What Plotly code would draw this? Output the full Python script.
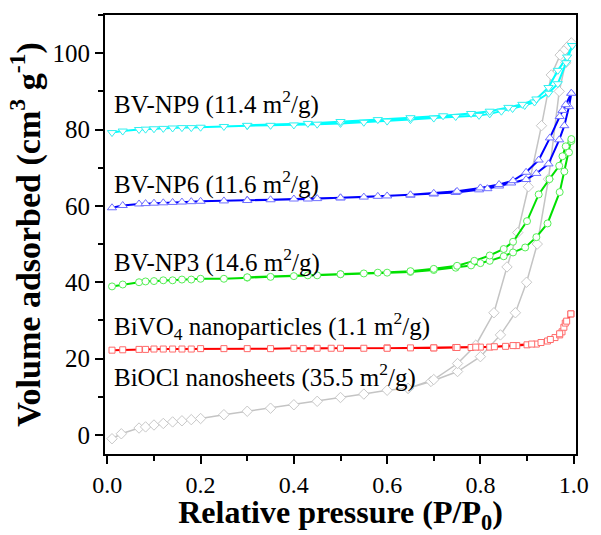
import plotly.graph_objects as go

# ---------------- data (P/P0, volume adsorbed cm3/g) ----------------
low_x = [0.01, 0.033, 0.068, 0.082, 0.10, 0.12, 0.14, 0.16, 0.18, 0.20,
         0.25, 0.30, 0.35, 0.40, 0.45, 0.50, 0.55, 0.60]

# BiOCl nanosheets
biocl_ads_x = [0.01, 0.03, 0.068, 0.082, 0.10, 0.12, 0.14, 0.16, 0.18, 0.20,
               0.25, 0.30, 0.35, 0.40, 0.45, 0.50, 0.55, 0.60, 0.645, 0.694,
               0.751, 0.80, 0.843, 0.875, 0.899, 0.922, 0.946, 0.969, 0.983, 0.99]
biocl_ads_y = [-1.0, 0.3, 1.8, 2.1, 2.6, 3.0, 3.4, 3.7, 4.0, 4.3,
               5.3, 6.2, 7.0, 7.9, 8.8, 9.8, 10.7, 11.7, 12.2, 14.0,
               16.6, 20.5, 26.2, 32.0, 40.0, 50.0, 67.0, 90.0, 97.5, 101.5]
biocl_des_x = [0.995, 0.986, 0.979, 0.971, 0.952, 0.931, 0.903, 0.88, 0.857,
               0.829, 0.79, 0.751, 0.70, 0.645]
biocl_des_y = [102.7, 101.6, 100.6, 99.5, 94.3, 81.0, 65.0, 53.0, 44.0,
               32.0, 23.5, 18.7, 14.5, 12.2]

# BiVO4 nanoparticles
bivo4_ads_x = low_x + [0.65, 0.70, 0.747, 0.78, 0.80, 0.82, 0.854, 0.878, 0.90,
                       0.92, 0.944, 0.96, 0.97, 0.975, 0.979, 0.982, 0.994]
bivo4_ads_y = [22.2, 22.3, 22.4, 22.4, 22.5, 22.5, 22.5, 22.5, 22.5, 22.6,
               22.6, 22.6, 22.6, 22.7, 22.7, 22.7, 22.7, 22.8,
               22.8, 22.8, 22.9, 22.9, 23.0, 23.0, 23.2, 23.4, 23.6,
               23.8, 24.6, 25.5, 26.2, 27.0, 28.2, 29.3, 31.7]
bivo4_des_x = [0.994, 0.985, 0.97, 0.95, 0.93, 0.91, 0.87, 0.83, 0.79, 0.75,
               0.70, 0.60, 0.48, 0.42]
bivo4_des_y = [31.7, 29.8, 26.5, 25.0, 24.2, 23.8, 23.4, 23.1, 23.0, 22.9,
               22.8, 22.7, 22.7, 22.6]

# BV-NP3
np3_ads_x = low_x + [0.65, 0.70, 0.747, 0.78, 0.80, 0.82, 0.85, 0.87, 0.896,
                     0.92, 0.944, 0.97, 0.98, 0.99, 0.995]
np3_ads_y = [38.9, 39.4, 40.0, 40.2, 40.3, 40.5, 40.5, 40.7, 40.7, 40.9,
             40.9, 41.2, 41.4, 41.6, 41.8, 42.1, 42.3, 42.5,
             42.7, 43.2, 43.8, 44.4, 45.0, 45.6, 46.8, 47.8, 49.1,
             51.8, 55.4, 63.6, 69.0, 74.0, 77.0]
np3_des_x = [0.995, 0.983, 0.976, 0.969, 0.948, 0.925, 0.90, 0.87, 0.85, 0.82,
             0.787, 0.75, 0.70, 0.65, 0.58, 0.50, 0.43, 0.30]
np3_des_y = [77.5, 75.6, 73.0, 70.5, 67.0, 63.0, 56.0, 50.6, 48.7, 47.0,
             45.6, 44.3, 43.5, 42.9, 42.5, 42.1, 41.8, 41.3]

# BV-NP6
np6_ads_x = low_x + [0.65, 0.70, 0.747, 0.797, 0.815, 0.84, 0.866, 0.898, 0.92,
                     0.946, 0.969, 0.98, 0.99, 0.995]
np6_ads_y = [59.5, 60.1, 60.5, 60.6, 60.7, 60.8, 60.9, 61.0, 61.1, 61.2,
             61.3, 61.5, 61.6, 61.8, 61.9, 62.1, 62.3, 62.6,
             62.8, 63.1, 63.5, 64.2, 64.5, 65.2, 66.0, 66.9, 68.5,
             71.0, 77.3, 81.0, 86.0, 89.5]
np6_des_x = [0.995, 0.983, 0.976, 0.97, 0.949, 0.925, 0.898, 0.87, 0.84, 0.80,
             0.75, 0.70, 0.65, 0.58, 0.50, 0.43, 0.30]
np6_des_y = [89.5, 86.5, 85.0, 83.4, 77.8, 72.0, 68.8, 66.6, 65.6, 64.7,
             63.8, 63.3, 62.9, 62.5, 62.1, 61.8, 61.4]

# BV-NP9
np9_ads_x = low_x + [0.65, 0.70, 0.747, 0.797, 0.82, 0.845, 0.869, 0.895, 0.916,
                     0.946, 0.966, 0.984, 0.997]
np9_ads_y = [79.2, 79.6, 80.0, 80.1, 80.2, 80.3, 80.4, 80.5, 80.5, 80.6,
             80.8, 81.0, 81.1, 81.2, 81.4, 81.6, 81.9, 82.2,
             82.6, 83.0, 83.4, 83.7, 84.1, 84.8, 85.5, 86.3, 87.2,
             89.5, 92.0, 97.5, 102.0]
np9_des_x = [0.997, 0.986, 0.966, 0.946, 0.92, 0.89, 0.86, 0.82, 0.78, 0.72,
             0.65, 0.58, 0.50, 0.43, 0.30]
np9_des_y = [102.0, 99.0, 95.5, 91.0, 88.0, 86.6, 85.8, 84.8, 84.2, 83.6,
             83.1, 82.6, 82.1, 81.6, 81.1]

labels = ["BiOCl nanosheets (35.5 m<sup>2</sup>/g)",
          "BiVO<sub>4</sub> nanoparticles (1.1 m<sup>2</sup>/g)",
          "BV-NP3 (14.6 m<sup>2</sup>/g)",
          "BV-NP6 (11.6 m<sup>2</sup>/g)",
          "BV-NP9 (11.4 m<sup>2</sup>/g)"]
label_y = [15.5, 28.5, 45.8, 66.1, 87.0]

series = [
    (biocl_ads_x, biocl_ads_y, biocl_des_x, biocl_des_y, "#c4c4c4", "#c8c8c8", "diamond", 1.5, 8),
    (bivo4_ads_x, bivo4_ads_y, bivo4_des_x, bivo4_des_y, "#ff0000", "#ff6a6a", "square", 2, 6),
    (np3_ads_x, np3_ads_y, np3_des_x, np3_des_y, "#00e000", "#55ee55", "circle", 2, 7),
    (np6_ads_x, np6_ads_y, np6_des_x, np6_des_y, "#0000ff", "#7070ff", "triangle-up", 2, 8),
    (np9_ads_x, np9_ads_y, np9_des_x, np9_des_y, "#00ffff", "#30f0f0", "triangle-down", 2, 8),
]

SERIF = "Liberation Serif, Times New Roman, serif"

fig = go.Figure()
for ax, ay, dx, dy, lc, mc, sym, lw, ms in series:
    fig.add_trace(go.Scatter(
        x=ax + dx, y=ay + dy, mode="lines+markers",
        line=dict(color=lc, width=lw),
        marker=dict(symbol=sym, size=ms, color="white", line=dict(color=mc, width=1)),
        showlegend=False))

for txt, yy in zip(labels, label_y):
    fig.add_annotation(x=0.01, y=yy, xref="x", yref="y", text=txt, showarrow=False,
                       xanchor="left", yanchor="middle",
                       font=dict(family=SERIF, size=25, color="black"))

axis_common = dict(showline=True, linecolor="black", linewidth=2, mirror=True,
                   ticks="outside", tickwidth=2, tickcolor="black", showgrid=False,
                   zeroline=False)

fig.update_xaxes(range=[-0.005, 1.005], tickvals=[0, 0.2, 0.4, 0.6, 0.8, 1.0],
                 ticktext=["0.0", "0.2", "0.4", "0.6", "0.8", "1.0"], ticklen=8,
                 tickfont=dict(family=SERIF, size=24, color="black"),
                 minor=dict(dtick=0.1, tick0=0, ticks="outside", ticklen=5, tickwidth=2,
                            tickcolor="black"),
                 title=dict(text="<b>Relative pressure (P/P<sub>0</sub>)</b>",
                            font=dict(family=SERIF, size=32, color="black"),
                            standoff=3),
                 **axis_common)
fig.update_yaxes(range=[-5, 110], tickvals=[0, 20, 40, 60, 80, 100], ticklen=8,
                 tickfont=dict(family=SERIF, size=25, color="black"),
                 minor=dict(dtick=10, tick0=0, ticks="outside", ticklen=5, tickwidth=2,
                            tickcolor="black"),
                 title=dict(text="<b>Volume adsorbed (cm<sup>3</sup> g<sup>-1</sup>)</b>",
                            font=dict(family=SERIF, size=34, color="black"),
                            standoff=2),
                 **axis_common)

fig.update_layout(width=601, height=535, margin=dict(l=105, r=18, t=15, b=80),
                  plot_bgcolor="white", paper_bgcolor="white")

fig.write_html("out.html")
